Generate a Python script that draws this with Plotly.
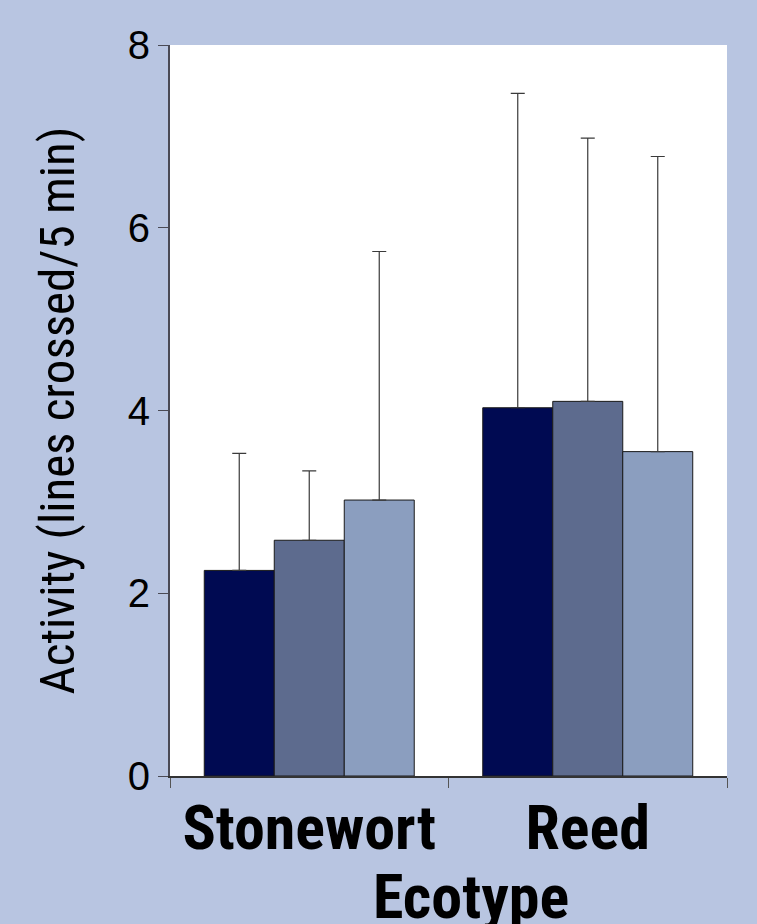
import plotly.graph_objects as go

categories = ["Stonewort", "Reed"]
series_names = ["Group 1", "Group 2", "Group 3"]
means = [
    [2.25, 4.03],
    [2.58, 4.10],
    [3.02, 3.55],
]
upper = [
    [3.53, 7.47],
    [3.34, 6.98],
    [5.74, 6.78],
]
colors = ["#000A52", "#5D6B8E", "#8B9EBF"]
y_ticks = [0, 2, 4, 6, 8]

NARROW = "Roboto Condensed, Liberation Sans, Arial, sans-serif"

fig = go.Figure()
for name, m, u, c in zip(series_names, means, upper, colors):
    fig.add_trace(go.Bar(
        x=categories, y=m, name=name,
        marker=dict(color=c, line=dict(color="#1a1a1a", width=1)),
        error_y=dict(type="data", symmetric=False,
                     array=[uu - mm for uu, mm in zip(u, m)],
                     arrayminus=[0 for _ in m],
                     color="#3a3a3a", thickness=1.2, width=7),
    ))

fig.update_layout(
    width=757, height=924,
    paper_bgcolor="#B8C5E1", plot_bgcolor="#FFFFFF",
    margin=dict(l=170, r=30, t=45, b=148),
    barmode="group", bargap=0.246, bargroupgap=0,
    showlegend=False,
    xaxis=dict(
        showline=True, linecolor="#333333", linewidth=1.5,
        ticks="outside", tickson="boundaries", ticklen=10, tickcolor="#555555",
        tickangle=0, ticklabelstandoff=-3,
        tickfont=dict(family=NARROW, size=62, color="#000000", weight="bold"),
        showgrid=False,
    ),
    yaxis=dict(
        range=[0, 8], tickvals=y_ticks,
        showline=True, linecolor="#4a4a55", linewidth=2,
        ticks="outside", ticklen=10, tickcolor="#4a4a55",
        tickfont=dict(family="Liberation Sans, Arial, sans-serif", size=40, color="#000000"),
        showgrid=False, zeroline=False,
        title=dict(text="Activity (lines crossed/5 min)",
                   font=dict(family=NARROW, size=49, color="#000000"),
                   standoff=38),
    ),
)

fig.add_annotation(
    text="<b>Ecotype</b>", xref="paper", yref="paper",
    x=(471 - 170) / 557, y=-0.112, xanchor="center", yanchor="top",
    showarrow=False,
    font=dict(family=NARROW, size=62, color="#000000"),
)

fig.write_html("out.html", config={"displayModeBar": False},
               post_script="document.body.style.margin='0';")
